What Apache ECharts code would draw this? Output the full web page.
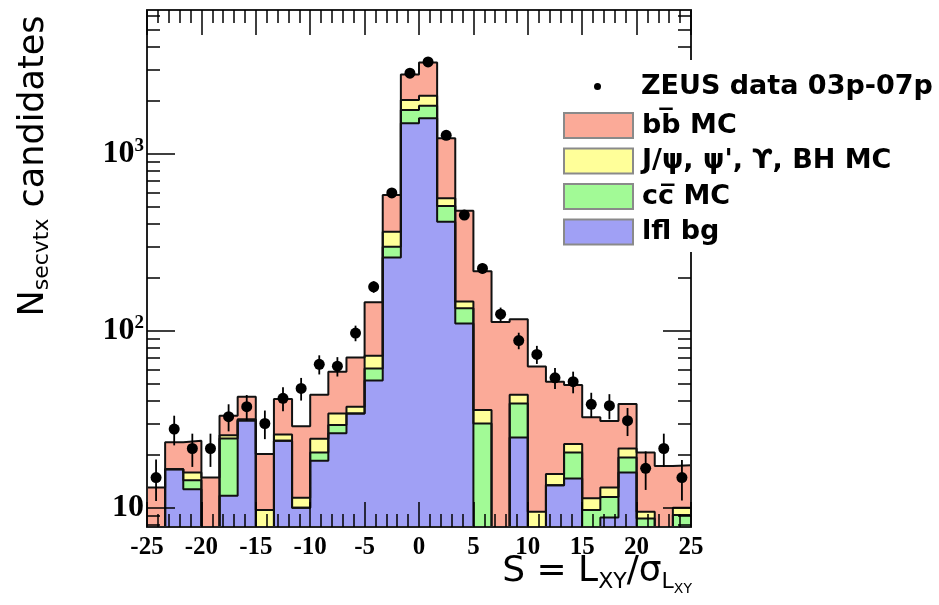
<!DOCTYPE html>
<html>
<head>
<meta charset="utf-8">
<script src="https://cdn.jsdelivr.net/npm/echarts@6/dist/echarts.min.js"></script>
<style>
html, body { margin: 0; padding: 0; background: #fff; }
#chart-container { width: 939px; height: 605px; }
</style>
</head>
<body>
<div id="chart-container"></div>
<script>
// histogram binning: 30 bins of width 5/3 from -25 to 25
var binLow = -25;
var binWidth = 5 / 3;

// MC components per bin
var lflBg  = [0, 16.5, 12.7, 0, 11.7, 31.0, 0, 23.9, 10.0, 18.4, 26.3, 34.1, 52.3, 259, 1484, 1585, 413, 110, 0, 0, 24.9, 0, 13.4, 14.6, 0, 8.8, 15.8, 0, 0, 0];
var ccMC   = [0, 0, 1.6, 0, 12.9, 0.3, 0, 0, 0, 2.1, 3.0, 0, 8.9, 39, 281, 281, 93, 24, 29.9, 0, 13.9, 0, 0, 5.9, 9.7, 2.7, 3.4, 8.7, 0, 9.1];
var jpsiMC = [0, 0, 1.5, 0, 1.1, 0.3, 9.7, 2.0, 1.4, 4.0, 4.8, 3.1, 11.1, 64, 245, 259, 54, 12, 5.7, 0, 4.6, 9.5, 2.1, 2.4, 1.6, 1.5, 2.4, 0.8, 0, 0.9];
var bbMC   = [13.0, 6.9, 8.1, 14.8, 7.4, 10.8, 10.4, 15.2, 17.5, 18.9, 24.5, 33.4, 72.3, 222, 796, 1156, 662, 330, 181.4, 112, 72.6, 53.2, 36.0, 26.4, 21.1, 17.9, 16.9, 11.0, 17.2, 7.4];

// ZEUS data and its errors
var zeusData = [14.8, 27.8, 21.6, 21.6, 32.7, 37.2, 29.9, 41.5, 47.2, 64.6, 63, 97, 177, 600, 2850, 3300, 1270, 450, 225, 124, 88, 73.5, 54.2, 51.5, 38.4, 37.7, 31.0, 16.7, 21.6, 14.8];
var zeusErr  = [3.9, 5.3, 4.6, 4.6, 5.7, 6.1, 5.5, 6.4, 6.9, 8.0, 7.9, 9.8, 13.3, 24.5, 53, 57, 35.6, 21.2, 15, 11.1, 9.4, 8.6, 7.4, 7.2, 6.2, 6.1, 5.6, 4.1, 4.6, 3.8];

// axis ticks
var yMajorTicks = [10, 100, 1000];
var yMinorTicks = [8, 9, 20, 30, 40, 50, 60, 70, 80, 90, 200, 300, 400, 500, 600, 700, 800, 900, 2000, 3000, 4000, 5000, 6000];

var colBB = '#fbaa98', colJpsi = '#ffff99', colCC = '#a2fa96', colLfl = '#a0a0f5';

function addArr(a, b) {
    return a.map(function (v, i) { return v + b[i]; });
}
var cumLfl = lflBg;
var cumCC = addArr(cumLfl, ccMC);
var cumJpsi = addArr(cumCC, jpsiMC);
var cumTotal = addArr(cumJpsi, bbMC);

// step points at bin edges, empty bins pushed below the axis
function stepPoints(vals) {
    var pts = vals.map(function (v, i) {
        return [binLow + i * binWidth, v > 0 ? v : 0.1];
    });
    var last = vals[vals.length - 1];
    pts.push([binLow + vals.length * binWidth, last > 0 ? last : 0.1]);
    return pts;
}

function histSeries(name, vals, color) {
    return {
        name: name,
        type: 'line',
        step: 'end',
        data: stepPoints(vals),
        showSymbol: false,
        symbol: 'none',
        clip: true,
        silent: true,
        lineStyle: { color: '#111', width: 2 },
        itemStyle: { color: color },
        areaStyle: { color: color, opacity: 1, origin: 'start' }
    };
}

var legendFont = { fontFamily: 'DejaVu Sans', fontWeight: 'bold', fontSize: 27, color: '#000' };
var boxBorder = { borderColor: '#8a8a8a', borderWidth: 2 };
var tickLine = { color: '#000', width: 1.5 };

// one log y axis per tick set and side, all sharing the same range
function logAxis(pos, ticks, len, main) {
    return {
        type: 'log', position: pos, min: 7.78, max: 6486, z: 10,
        axisLine: { show: main, onZero: false, lineStyle: { color: '#222', width: 2 } },
        axisTick: { inside: true, length: len, customValues: ticks, lineStyle: tickLine },
        splitLine: { show: false },
        axisLabel: { show: false }
    };
}

function xAxisAt(pos, labels) {
    return {
        type: 'value', position: pos, min: -25, max: 25, interval: 5, z: 10,
        axisLine: { onZero: false, lineStyle: { color: '#222', width: 2 } },
        axisTick: { inside: true, length: 25, lineStyle: tickLine },
        minorTick: { show: true, splitNumber: 5, length: 13, lineStyle: tickLine },
        splitLine: { show: false },
        axisLabel: { show: labels, margin: 8, fontFamily: 'Liberation Serif', fontWeight: 'bold', fontSize: 25, color: '#000' }
    };
}

var dom = document.getElementById('chart-container');
var myChart = echarts.init(dom, null, { renderer: 'canvas' });

var yLeft = logAxis('left', yMajorTicks, 28, true);
yLeft.axisLabel = {
    customValues: yMajorTicks, margin: 3,
    fontFamily: 'Liberation Serif', fontWeight: 'bold', fontSize: 32, color: '#000',
    formatter: function (v) {
        var p = Math.round(Math.log10(v));
        return p === 1 ? '10' : '10{sup|' + p + '}';
    },
    rich: {
        sup: { fontFamily: 'Liberation Serif', fontWeight: 'bold', fontSize: 19, padding: [0, 0, 16, 0], color: '#000' }
    }
};

var option = {
    animation: false,
    grid: { left: 147, right: 248, top: 10, bottom: 78 },
    xAxis: [xAxisAt('bottom', true), xAxisAt('top', false)],
    yAxis: [
        yLeft,
        logAxis('right', yMajorTicks, 28, true),
        logAxis('left', yMinorTicks, 13, false),
        logAxis('right', yMinorTicks, 13, false)
    ],
    legend: [
        {
            z: 20, selectedMode: false, left: 589, top: 68,
            itemWidth: 7, itemHeight: 7,
            data: [{ name: 'ZEUS data 03p-07p', icon: 'circle', itemStyle: { color: '#000' } }],
            textStyle: Object.assign({ padding: [0, 0, 0, 35] }, legendFont)
        },
        {
            z: 20, selectedMode: false, orient: 'vertical', left: 558, top: 107,
            itemWidth: 69, itemHeight: 25, itemGap: 8.5,
            data: [
                { name: 'bb\u0305 MC', icon: 'rect', itemStyle: Object.assign({ color: colBB }, boxBorder) },
                { name: 'J/\u03c8, \u03c8\', \u03d2, BH MC', icon: 'rect', itemStyle: Object.assign({ color: colJpsi }, boxBorder) },
                { name: 'cc\u0305 MC', icon: 'rect', itemStyle: Object.assign({ color: colCC }, boxBorder) },
                { name: 'lfl bg', icon: 'rect', itemStyle: Object.assign({ color: colLfl }, boxBorder) }
            ],
            textStyle: Object.assign({ padding: [0, 0, 0, 4] }, legendFont)
        }
    ],
    graphic: [
        // white legend pad over the right frame
        { type: 'rect', z: 15, shape: { x: 553, y: 60, width: 386, height: 192 }, style: { fill: '#fff' } },
        {
            type: 'text', z: 20, x: 34, y: 166, rotation: Math.PI / 2,
            style: {
                text: 'N{sub|secvtx} candidates',
                fontFamily: 'DejaVu Sans', fontSize: 35, fill: '#000',
                align: 'center', verticalAlign: 'middle',
                rich: { sub: { fontFamily: 'DejaVu Sans', fontSize: 22, fill: '#000', padding: [16, 0, 0, 0] } }
            }
        },
        {
            type: 'text', z: 20, x: 692, y: 572,
            style: {
                text: 'S = L{sub|XY}/\u03c3{sub|L}{sub2|XY}',
                fontFamily: 'DejaVu Sans', fontSize: 36, fill: '#000',
                align: 'right', verticalAlign: 'middle',
                rich: {
                    sub: { fontFamily: 'DejaVu Sans', fontSize: 22, fill: '#000', padding: [20, 0, 0, 0] },
                    sub2: { fontFamily: 'DejaVu Sans', fontSize: 14, fill: '#000', padding: [34, 0, 0, 0] }
                }
            }
        }
    ],
    series: [
        histSeries('bb\u0305 MC', cumTotal, colBB),
        histSeries('J/\u03c8, \u03c8\', \u03d2, BH MC', cumJpsi, colJpsi),
        histSeries('cc\u0305 MC', cumCC, colCC),
        histSeries('lfl bg', cumLfl, colLfl),
        {
            name: 'ZEUS data 03p-07p',
            type: 'custom',
            z: 5,
            itemStyle: { color: '#000' },
            encode: { x: 0, y: 1 },
            data: zeusData.map(function (v, i) {
                return [binLow + (i + 0.5) * binWidth, v, zeusErr[i]];
            }),
            renderItem: function (params, api) {
                var x = api.value(0), y = api.value(1), e = api.value(2);
                var c = api.coord([x, y]);
                var lo = api.coord([x, y - e]);
                var hi = api.coord([x, y + e]);
                return {
                    type: 'group',
                    children: [
                        { type: 'line', shape: { x1: c[0], y1: lo[1], x2: c[0], y2: hi[1] }, style: { stroke: '#000', lineWidth: 1.8 } },
                        { type: 'circle', shape: { cx: c[0], cy: c[1], r: 5.5 }, style: { fill: '#000' } }
                    ]
                };
            }
        }
    ]
};

myChart.setOption(option);

window.addEventListener('resize', function () {
    myChart.resize();
});
</script>
</body>
</html>
